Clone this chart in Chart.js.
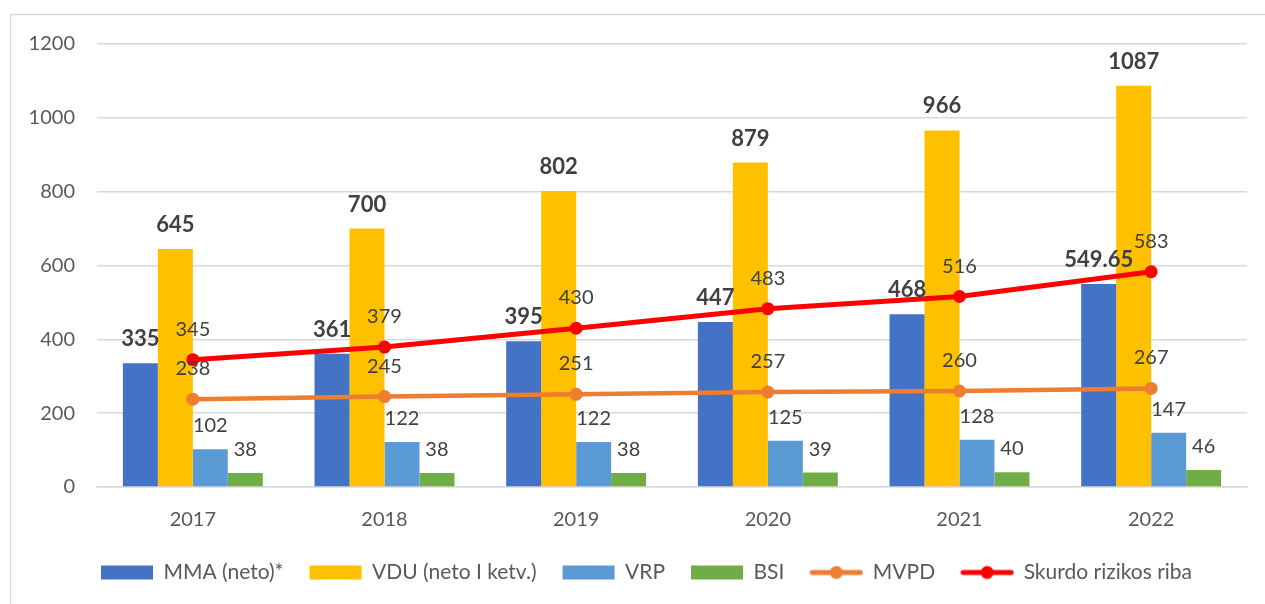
<!DOCTYPE html>
<html>
<head>
<meta charset="utf-8">
<script src="https://cdn.jsdelivr.net/npm/chart.js@4"></script>
<style>
  html, body { margin: 0; padding: 0; background: #fff; }
  #wrap { width: 1265px; height: 604px; }
</style>
</head>
<body>
<div id="wrap"><canvas id="ismokosChart" width="1265" height="604"></canvas></div>
<script>
var years = ['2017', '2018', '2019', '2020', '2021', '2022'];
var mma = [335, 361, 395, 447, 468, 549.65];
var vdu = [645, 700, 802, 879, 966, 1087];
var vrp = [102, 122, 122, 125, 128, 147];
var bsi = [38, 38, 38, 39, 40, 46];
var mvpd = [238, 245, 251, 257, 260, 267];
var skurdo = [345, 379, 430, 483, 516, 583];
var yTicks = [0, 200, 400, 600, 800, 1000, 1200];

var FONT = 'Lato, "Open Sans", sans-serif';

// small picture for each legend entry (box or line with dot)
function swatch(color, isLine) {
  var c = document.createElement('canvas');
  c.width = 54; c.height = 16;
  var g = c.getContext('2d');
  if (isLine) {
    g.strokeStyle = color;
    g.lineWidth = 5;
    g.lineCap = 'round';
    g.beginPath(); g.moveTo(3, 8); g.lineTo(51, 8); g.stroke();
    g.fillStyle = color;
    g.beginPath(); g.arc(27, 8, 6.5, 0, Math.PI * 2); g.fill();
  } else {
    g.fillStyle = color;
    g.fillRect(1, 1, 52, 14);
  }
  return c;
}

var frame = {
  id: 'frame',
  beforeDraw: function(chart) {
    var ctx = chart.ctx;
    ctx.save();
    ctx.strokeStyle = '#d9d9d9';
    ctx.lineWidth = 1.5;
    ctx.strokeRect(10.5, 14.5, 1400, 800);
    ctx.restore();
  }
};

// legend sits a bit right of centre in the original
var legendShift = {
  id: 'legendShift',
  afterLayout: function(chart) {
    chart.legend.left += 23;
    chart.legend.right += 23;
  }
};

var valueLabels = {
  id: 'valueLabels',
  afterDatasetsDraw: function(chart) {
    var ctx = chart.ctx;
    ctx.save();
    ctx.textAlign = 'center';
    ctx.textBaseline = 'alphabetic';
    chart.data.datasets.forEach(function(ds, i) {
      var meta = chart.getDatasetMeta(i);
      meta.data.forEach(function(el, j) {
        var v = ds.data[j];
        ctx.font = (ds.boldLabel ? 'bold 22px ' : '20px ') + FONT;
        ctx.fillStyle = '#404040';
        var off = ds.type === 'line' ? 24 : 17;
        ctx.fillText(String(v), el.x, el.y - off);
      });
    });
    ctx.restore();
  }
};

new Chart(document.getElementById('ismokosChart'), {
  type: 'bar',
  data: {
    labels: years,
    datasets: [
      { label: 'MMA (neto)*', data: mma, backgroundColor: '#4472C4', boldLabel: true, order: 1 },
      { label: 'VDU (neto I ketv.)', data: vdu, backgroundColor: '#FFC000', boldLabel: true, order: 1 },
      { label: 'VRP', data: vrp, backgroundColor: '#5B9BD5', order: 1 },
      { label: 'BSI', data: bsi, backgroundColor: '#70AD47', order: 1 },
      {
        type: 'line', label: 'MVPD', data: mvpd, order: 0,
        borderColor: '#ED7D31', backgroundColor: '#ED7D31', borderWidth: 4.5,
        pointRadius: 6.5, pointBorderWidth: 0, pointBackgroundColor: '#ED7D31', fill: false, tension: 0
      },
      {
        type: 'line', label: 'Skurdo rizikos riba', data: skurdo, order: 0,
        borderColor: '#FF0000', backgroundColor: '#FF0000', borderWidth: 5,
        pointRadius: 6.5, pointBorderWidth: 0, pointBackgroundColor: '#FF0000', fill: false, tension: 0
      }
    ]
  },
  options: {
    responsive: false,
    animation: false,
    layout: { padding: { top: 44, right: 18, left: 0, bottom: 11 } },
    datasets: { bar: { categoryPercentage: 0.73, barPercentage: 1 } },
    scales: {
      x: {
        grid: { display: false, drawTicks: false },
        border: { color: '#d9d9d9', width: 1.5 },
        ticks: { color: '#595959', font: { family: FONT, size: 20 }, padding: 21 },
        afterFit: function(s) { s.height = 49; }
      },
      y: {
        min: 0, max: 1200,
        afterBuildTicks: function(s) { s.ticks = yTicks.map(function(v) { return { value: v }; }); },
        grid: { color: '#d9d9d9', lineWidth: 1.5, drawTicks: false },
        border: { display: false },
        ticks: {
          color: '#595959', font: { family: FONT, size: 20 }, padding: 22,
          callback: function(v) { return String(v); }
        },
        afterFit: function(s) { s.width = 97; }
      }
    },
    plugins: {
      tooltip: { enabled: false },
      legend: {
        position: 'bottom',
        labels: {
          color: '#595959',
          font: { family: FONT, size: 21 },
          usePointStyle: true,
          pointStyleWidth: 52,
          boxHeight: 16,
          padding: 26,
          generateLabels: function(chart) {
            return chart.data.datasets.map(function(ds, i) {
              return {
                text: ds.label,
                datasetIndex: i,
                pointStyle: swatch(ds.backgroundColor, ds.type === 'line'),
                fontColor: '#595959',
                hidden: false,
                lineWidth: 0
              };
            });
          }
        }
      }
    }
  },
  plugins: [frame, legendShift, valueLabels]
});
</script>
</body>
</html>
